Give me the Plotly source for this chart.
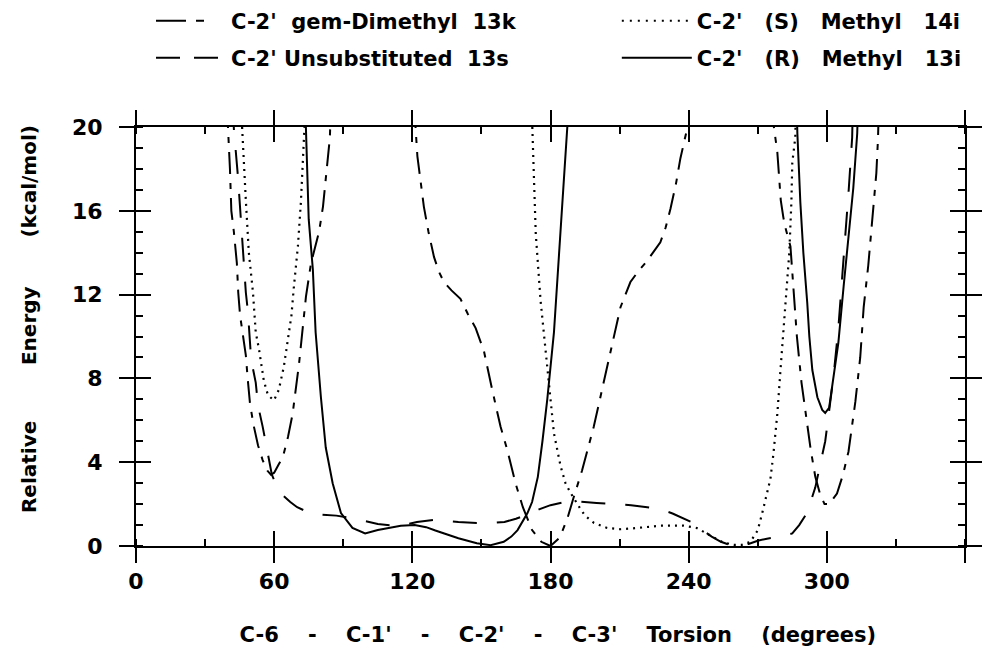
import plotly.graph_objects as go

# ---- data (torsion in degrees, relative energy in kcal/mol); None separates branches ----
gem_x = [39.5, 40.0, 40.8, 41.4, 42.5, 43.8, 44.4, 45.2, 46.4, 47.7, 48.5, 49.5, 51.0, 53.0, 55.0, 57.0, 58.6,
         60.0, 62.0, 63.8, 66.0, 68.0, 70.8, 72.5, 73.8, 76.0, 79.5, 81.2, 82.4, 84.2, 84.6, None,
         120.8, 121.5, 122.2, 125.0, 127.0, 129.4, 131.5, 133.7, 137.0, 140.9, 144.0, 147.5, 151.1, 154.7,
         158.3, 161.2, 164.8, 168.0, 172.0, 176.0, 180.0, 184.0, 187.3, 190.0, 193.7, 198.8, 204.6, 210.4,
         214.7, 218.0, 221.9, 227.7, 230.0, 232.1, 234.5, 236.4, 239.3, 239.6, None,
         276.6, 277.0, 278.5, 280.0, 281.1, 282.0, 284.2, 285.6, 287.0, 289.0, 291.0, 293.0, 295.0, 297.0,
         299.0, 301.0, 304.4, 307.0, 309.4, 311.0, 312.4, 314.5, 316.0, 318.0, 319.7, 321.5, 322.2, 322.6]
gem_y = [21.0, 20.0, 18.0, 16.0, 15.0, 13.5, 12.1, 11.0, 10.1, 9.1, 8.0, 6.8, 5.8, 4.8, 4.1, 3.6, 3.4,
         3.5, 3.9, 4.25, 5.2, 6.3, 8.7, 10.5, 11.9, 13.5, 15.0, 16.2, 17.5, 19.5, 21.0, None,
         21.0, 19.7, 18.6, 16.2, 15.0, 13.8, 13.1, 12.6, 12.2, 11.8, 11.1, 10.4, 9.3, 7.45,
         5.7, 4.6, 3.0, 1.85, 0.76, 0.2, 0.0, 0.4, 1.3, 2.3, 3.6, 5.7, 8.56, 11.4,
         12.6, 13.1, 13.6, 14.5, 15.2, 16.1, 17.3, 18.5, 19.9, 21.0, None,
         21.0, 20.0, 18.8, 16.5, 15.7, 15.2, 14.3, 12.2, 10.0, 7.8, 6.2, 4.6, 3.3, 2.5,
         2.0, 2.0, 2.5, 3.4, 4.5, 5.8, 6.9, 9.0, 11.4, 13.4, 15.6, 17.8, 19.4, 21.0]

uns_x = [42.2, 42.5, 44.3, 45.5, 46.4, 47.0, 47.7, 48.6, 49.5, 50.0, 52.0, 53.0, 55.0, 57.0, 59.0, 61.0,
         64.0, 67.0, 70.0, 75.0, 80.0, 87.0, 95.0, 105.0, 114.0, 122.0, 130.0, 140.0, 148.0, 155.0, 160.0,
         165.0, 170.0, 175.0, 180.0, 186.0, 192.0, 200.0, 208.0, 215.0, 222.0, 228.0, 233.0, 238.0, 242.0,
         246.0, 250.0, 254.0, 258.0, 262.0, 266.0, 270.0, 274.0, 280.0, 285.0, 288.0, 291.5, 295.0, 297.0,
         299.3, 300.6, 303.0, 305.0, 306.7, 308.0, 309.5, 310.5, 311.0, 311.3]
uns_y = [21.0, 19.9, 17.6, 15.6, 14.5, 13.3, 12.1, 11.2, 10.0, 8.9, 7.8, 6.7, 5.7, 4.5, 3.4, 2.9,
         2.4, 2.1, 1.85, 1.6, 1.5, 1.45, 1.3, 1.05, 0.95, 1.15, 1.25, 1.15, 1.1, 1.1, 1.15,
         1.3, 1.5, 1.75, 1.95, 2.1, 2.12, 2.05, 2.0, 1.95, 1.85, 1.75, 1.55, 1.3, 1.1,
         0.75, 0.45, 0.2, 0.05, 0.02, 0.1, 0.25, 0.35, 0.45, 0.6, 1.0, 1.6, 2.8, 3.8,
         5.0, 6.1, 8.2, 10.4, 12.7, 14.8, 17.0, 18.5, 19.5, 21.0]

s_x = [45.6, 46.0, 46.4, 47.7, 49.0, 50.8, 52.0, 53.4, 55.5, 57.3, 59.9, 62.0, 64.2, 66.0, 67.5, 68.5,
       70.3, 71.6, 72.5, 73.3, 73.6, None,
       171.8, 172.1, 173.6, 175.7, 178.6, 181.5, 184.4, 186.5, 188.7, 191.0, 193.1, 195.0, 198.9, 204.6,
       210.4, 217.7, 227.8, 237.8, 243.5, 249.4, 254.6, 259.6, 263.0, 266.8, 270.0, 272.0, 274.0, 275.5,
       276.8, 278.5, 279.8, 281.1, 282.0, 282.8, 283.7, 284.6, 285.0, 286.3, 286.6]
s_y = [21.0, 20.0, 19.4, 16.5, 14.0, 12.1, 10.2, 9.4, 7.9, 7.2, 6.95, 7.45, 8.56, 9.8, 11.0, 12.3,
       14.3, 16.4, 18.4, 19.7, 21.0, None,
       21.0, 20.0, 14.9, 11.7, 8.56, 5.38, 3.8, 3.0, 2.54, 2.1, 1.75, 1.45, 1.1, 0.86,
       0.8, 0.86, 0.97, 0.97, 0.86, 0.5, 0.19, 0.05, 0.05, 0.2, 0.75, 1.6, 2.6, 3.2,
       4.4, 6.3, 8.3, 10.2, 11.4, 12.7, 14.0, 16.4, 18.3, 19.5, 21.0]

r_x = [73.5, 73.8, 75.0, 76.8, 78.0, 80.3, 82.4, 85.4, 89.0, 94.0, 99.5, 105.0, 110.0, 115.0, 121.0,
       126.0, 130.0, 135.0, 140.0, 148.0, 154.0, 159.7, 163.0, 165.7, 168.0, 170.0, 172.0, 174.5, 176.5,
       178.6, 181.5, 184.4, 186.0, 187.3, 187.6, None,
       286.9, 287.2, 288.5, 289.8, 291.5, 292.4, 293.7, 295.9, 298.0, 299.3, 301.0, 302.8, 305.0, 307.3,
       309.3, 311.5, 313.2, 313.5]
r_y = [21.0, 20.0, 15.6, 13.2, 10.2, 7.1, 4.7, 3.0, 1.57, 0.86, 0.6, 0.76, 0.88, 0.97, 1.0,
       0.9, 0.74, 0.55, 0.37, 0.13, 0.04, 0.2, 0.45, 0.76, 1.2, 1.57, 2.1, 3.3, 5.0,
       7.0, 10.2, 14.9, 17.5, 20.0, 21.0, None,
       21.0, 19.7, 16.4, 14.0, 11.6, 10.0, 8.4, 7.1, 6.5, 6.35, 6.6, 7.9, 9.7, 12.4,
       14.8, 17.1, 19.7, 21.0]

x_ticks = [0, 60, 120, 180, 240, 300, 360]
y_ticks = [0, 4, 8, 12, 16, 20]

NB = "\u00a0"
ZW = "\u200b"
# last x label padded on its right so it stays inside the window
x_ticktext = [str(v) for v in x_ticks[:-1]] + [f"{x_ticks[-1]}{NB*2}{ZW}"]
names = [
    f"C-2'{NB*2}gem-Dimethyl{NB*2}13k",
    f"C-2'{NB}Unsubstituted{NB*2}13s",
    f"C-2'{NB*3}(S){NB*3}Methyl{NB*3}14i",
    f"C-2'{NB*3}(R){NB*3}Methyl{NB*3}13i",
]
x_title = (f"{ZW}{NB*2}C-6{NB*4}-{NB*4}C-1'{NB*4}-{NB*4}C-2'{NB*4}-{NB*4}C-3'{NB*4}"
           f"Torsion{NB*4}(degrees)")
y_title = f"{ZW}{NB*5}Relative{NB*8}Energy{NB*7}(kcal/mol)"

FONT = "DejaVu Sans, Verdana, sans-serif"

fig = go.Figure()
# data curves
fig.add_trace(go.Scatter(x=gem_x, y=gem_y, mode="lines", name=names[0], showlegend=False,
                         line=dict(color="black", width=2, dash="22px,9px,6px,9px")))
fig.add_trace(go.Scatter(x=uns_x, y=uns_y, mode="lines", name=names[1], showlegend=False,
                         line=dict(color="black", width=2, dash="24px,20px")))
fig.add_trace(go.Scatter(x=s_x, y=s_y, mode="lines", name=names[2], showlegend=False,
                         line=dict(color="black", width=2.2, dash="2px,5px")))
fig.add_trace(go.Scatter(x=r_x, y=r_y, mode="lines", name=names[3], showlegend=False,
                         line=dict(color="black", width=2)))
# legend keys (same styles, dash scaled to the short legend sample)
leg_dash = ["30px,10px,8px,40px", "24px,14px,24px,40px", "2px,6px", "solid"]
for i, (nm, dsh) in enumerate(zip(names, leg_dash)):
    fig.add_trace(go.Scatter(x=[None], y=[None], mode="lines", name=nm,
                             legend=["legend", "legend2", "legend3", "legend4"][i],
                             line=dict(color="black", width=2, dash=dsh)))
# helper trace so the overlay axes (second set of tick marks) are drawn
fig.add_trace(go.Scatter(x=[None], y=[None], xaxis="x2", yaxis="y2", showlegend=False,
                         hoverinfo="skip"))

tickfont = dict(family=FONT, size=22, color="black", weight="bold")
legfont = dict(family=FONT, size=21, color="black", weight="bold")
xtitlefont = dict(family=FONT, size=21, color="black", weight="bold")
ytitlefont = dict(family=FONT, size=20, color="black", weight="bold")

common_ax = dict(showgrid=False, zeroline=False, showline=True, linecolor="black", linewidth=2,
                 tickcolor="black", tickwidth=2, ticklen=15)

leg_common = dict(xanchor="left", yanchor="middle", font=legfont, itemwidth=70,
                  bgcolor="rgba(0,0,0,0)", borderwidth=0)

# the page body puts the figure 8 px in from the top-left corner of the 992x664 window;
# the figure is sized to fill the rest of the window so no scrollbars appear
fig.update_layout(
    width=984, height=648,
    margin=dict(l=128, r=27, t=119, b=110, autoexpand=False),
    paper_bgcolor="white", plot_bgcolor="white",
    font=dict(family=FONT, color="black"),
    xaxis=dict(range=[0, 360], tickvals=x_ticks, ticktext=x_ticktext, ticks="outside", mirror="ticks",
               tickfont=tickfont,
               minor=dict(ticks="inside", dtick=30, tick0=0, ticklen=7, tickwidth=1.5, tickcolor="black"),
               title=dict(text=x_title, font=xtitlefont, standoff=34),
               **common_ax),
    yaxis=dict(range=[0, 20], tickvals=y_ticks, ticks="outside", mirror="ticks",
               tickfont=tickfont, ticklabelstandoff=12,
               minor=dict(ticks="inside", dtick=1, tick0=0, ticklen=7, tickwidth=1.5, tickcolor="black"),
               title=dict(text=y_title, font=ytitlefont, standoff=30),
               **common_ax),
    xaxis2=dict(overlaying="x", anchor="y", side="bottom", range=[0, 360], tickvals=x_ticks,
                ticks="inside", mirror="ticks", showticklabels=False, **common_ax),
    yaxis2=dict(overlaying="y", anchor="x", side="left", range=[0, 20], tickvals=y_ticks,
                ticks="inside", mirror="ticks", showticklabels=False, **common_ax),
    legend=dict(x=0.0181, y=1.253, **leg_common),
    legend2=dict(x=0.0181, y=1.1647, **leg_common),
    legend3=dict(x=0.580, y=1.253, **leg_common),
    legend4=dict(x=0.580, y=1.1647, **leg_common),
)

fig.write_html("out.html")
